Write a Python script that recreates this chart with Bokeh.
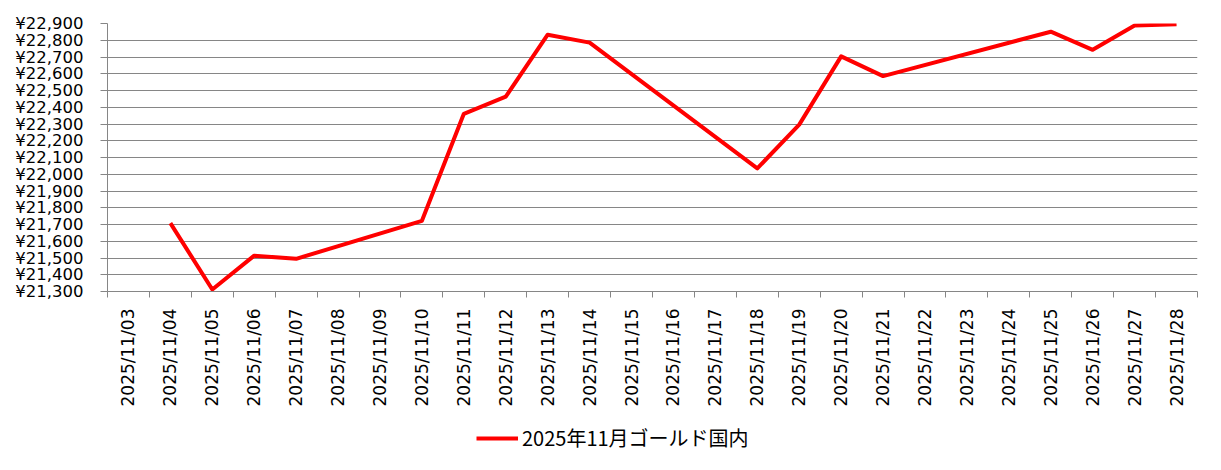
import math
from bokeh.plotting import figure
from bokeh.layouts import column
from bokeh.models import (Range1d, FixedTicker, Legend, LegendItem, ColumnDataSource)
from bokeh.embed import file_html
from bokeh.resources import INLINE

# ---- data ----
categories = ["2025/11/03", "2025/11/04", "2025/11/05", "2025/11/06", "2025/11/07",
              "2025/11/08", "2025/11/09", "2025/11/10", "2025/11/11", "2025/11/12",
              "2025/11/13", "2025/11/14", "2025/11/15", "2025/11/16", "2025/11/17",
              "2025/11/18", "2025/11/19", "2025/11/20", "2025/11/21", "2025/11/22",
              "2025/11/23", "2025/11/24", "2025/11/25", "2025/11/26", "2025/11/27",
              "2025/11/28"]
data_dates = ["2025/11/04", "2025/11/05", "2025/11/06", "2025/11/07", "2025/11/10",
              "2025/11/11", "2025/11/12", "2025/11/13", "2025/11/14", "2025/11/18",
              "2025/11/19", "2025/11/20", "2025/11/21", "2025/11/25", "2025/11/26",
              "2025/11/27", "2025/11/28"]
gold_prices = [21708, 21312, 21514, 21495, 21722, 22361, 22463, 22833, 22786, 22035,
               22296, 22704, 22586, 22851, 22743, 22888, 22896]
y_ticks = list(range(21300, 23000, 100))
series_name = "2025年11月ゴールド国内"

# ---- build ----
W = 1213
MAIN_H = 414
LEG_H = 48
n = len(categories)
centers = [i + 0.5 for i in range(n)]
boundaries = list(range(n + 1))
xs = [categories.index(d) + 0.5 for d in data_dates]
src = ColumnDataSource(dict(x=xs, y=gold_prices))

p = figure(width=W, height=MAIN_H, output_backend="svg", toolbar_location=None,
           x_range=Range1d(0, n), y_range=Range1d(21300, 22900),
           min_border_left=107, min_border_right=16, min_border_top=23,
           min_border_bottom=MAIN_H - 291)
p.outline_line_color = None
p.background_fill_color = "white"
p.border_fill_color = "white"

line_style = dict(line_color="#FF0000", line_width=4, line_join="round")
line = p.line("x", "y", source=src, **line_style)

grid_col = "#868686"
# x axis
xa = p.xaxis[0]
xa.ticker = FixedTicker(ticks=centers, minor_ticks=boundaries)
xa.major_label_overrides = {c: lab for c, lab in zip(centers, categories)}
xa.major_label_orientation = math.pi / 2
xa.major_tick_line_color = None
xa.major_tick_out = 0
xa.major_tick_in = 0
xa.minor_tick_line_color = grid_col
xa.minor_tick_out = 6
xa.minor_tick_in = 0
xa.axis_line_color = grid_col
xa.major_label_standoff = 11
xa.major_label_text_font = "DejaVu Sans"
xa.major_label_text_font_size = "17px"
xa.major_label_text_color = "#000000"

# y axis
ya = p.yaxis[0]
ya.ticker = FixedTicker(ticks=y_ticks)
ya.major_label_overrides = {t: "¥{:,}".format(t) for t in y_ticks}
ya.major_tick_line_color = grid_col
ya.major_tick_out = 7
ya.major_tick_in = 0
ya.minor_tick_line_color = None
ya.axis_line_color = grid_col
ya.major_label_standoff = 17
ya.major_label_text_font = "DejaVu Sans"
ya.major_label_text_font_size = "16.5px"
ya.major_label_text_color = "#000000"

p.xgrid.grid_line_color = None
p.ygrid.grid_line_color = grid_col
p.ygrid.grid_line_width = 1

# ---- legend strip (same series, drawn outside this strip's view so only the key shows) ----
leg = figure(width=W, height=LEG_H, output_backend="svg", toolbar_location=None,
             x_range=Range1d(-2, -1), y_range=Range1d(-2, -1),
             x_axis_type=None, y_axis_type=None,
             min_border_left=0, min_border_right=0, min_border_top=0,
             min_border_bottom=0)
leg.outline_line_color = None
leg.xgrid.grid_line_color = None
leg.ygrid.grid_line_color = None
leg_line = leg.line("x", "y", source=src, **line_style)
legend = Legend(items=[LegendItem(label=series_name, renderers=[leg_line])],
                orientation="horizontal", location=(369, 10),
                label_text_font="Noto Sans CJK JP", label_text_font_size="20px",
                label_text_color="#000000",
                glyph_width=42, glyph_height=20, label_standoff=4,
                label_height=20, padding=4, margin=0,
                border_line_color=None, background_fill_alpha=0)
leg.add_layout(legend, "center")

layout = column(p, leg, spacing=0)
open("out.html", "w").write(file_html(layout, INLINE))
